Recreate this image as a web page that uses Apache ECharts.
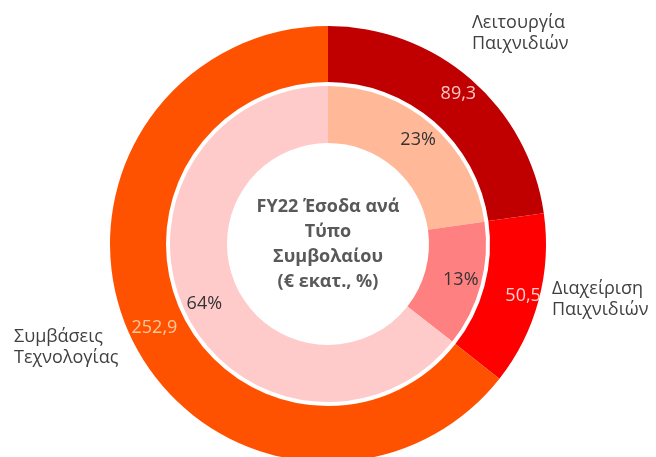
<!DOCTYPE html>
<html>
<head>
<meta charset="utf-8">
<script src="https://cdn.jsdelivr.net/npm/echarts@6/dist/echarts.min.js"></script>
<style>
  html, body { margin: 0; padding: 0; background: #ffffff; }
  #main { width: 656px; height: 457px; }
</style>
</head>
<body>
<div id="main"></div>
<script>
// data
const categories = ['Λειτουργία\nΠαιχνιδιών', 'Διαχείριση\nΠαιχνιδιών', 'Συμβάσεις\nΤεχνολογίας']
const revenue = [89.3, 50.5, 252.9]       // € εκατ.
const shares = [23, 13, 64]               // %
const centerTitle = 'FY22 Έσοδα ανά\nΤύπο\nΣυμβολαίου\n(€ εκατ., %)'

const outerColors = ['#C00000', '#FF0000', '#FF5200']
const innerColors = ['#FFB898', '#FF8080', '#FFCACA']
const valueLabelColors = ['#FFC4C4', '#FFCFCF', '#FFC79C']
// where the category names sit (label box left / vertical middle)
const namePos = [[472, 33], [552, 299], [14, 347]]

const font = '"Open Sans", "Noto Sans", sans-serif'
const center = [328, 244]

const chart = echarts.init(document.getElementById('main'))

const option = {
  backgroundColor: '#ffffff',
  animation: false,
  graphic: [{
    type: 'text',
    x: center[0],
    y: center[1],
    style: {
      text: centerTitle,
      font: 'bold 18px ' + font,
      fill: '#595959',
      align: 'center',
      verticalAlign: 'middle',
      lineHeight: 25
    }
  }],
  series: [
    {
      // outer ring: € values
      type: 'pie',
      center: center,
      radius: [162, 218],
      startAngle: 90,
      clockwise: true,
      silent: true,
      label: {
        position: 'inside',
        fontFamily: font,
        fontSize: 18,
        formatter: p => p.value.toFixed(1).replace('.', ',')
      },
      labelLayout: p => {
        // nudge the first two values toward the outer edge like the original
        const push = [6, 9, 0][p.dataIndex]
        const a = [41, 105, 244][p.dataIndex] * Math.PI / 180
        return { dx: push * Math.sin(a), dy: -push * Math.cos(a) }
      },
      data: revenue.map((v, i) => ({
        value: v,
        name: categories[i],
        itemStyle: { color: outerColors[i] },
        label: { color: valueLabelColors[i] }
      }))
    },
    {
      // category names outside the ring
      type: 'pie',
      center: center,
      radius: [162, 218],
      startAngle: 90,
      silent: true,
      itemStyle: { color: 'rgba(0,0,0,0)' },
      labelLine: { show: false },
      label: {
        position: 'outside',
        fontFamily: font,
        fontSize: 18,
        lineHeight: 21,
        color: '#404040',
        overflow: 'none',
        formatter: p => p.name
      },
      labelLayout: p => ({
        x: namePos[p.dataIndex][0],
        y: namePos[p.dataIndex][1],
        align: 'left',
        verticalAlign: 'middle'
      }),
      data: revenue.map((v, i) => ({ value: v, name: categories[i] }))
    },
    {
      // inner ring: shares
      type: 'pie',
      center: center,
      radius: [101, 158],
      startAngle: 90,
      silent: true,
      label: {
        position: 'inside',
        fontFamily: font,
        fontSize: 18,
        color: '#333333',
        formatter: p => shares[p.dataIndex] + '%'
      },
      labelLayout: p => {
        const a = [41, 105, 244][p.dataIndex] * Math.PI / 180
        return { dx: 5 * Math.sin(a), dy: -5 * Math.cos(a) }
      },
      data: shares.map((v, i) => ({
        value: revenue[i],
        name: categories[i],
        itemStyle: { color: innerColors[i] }
      }))
    }
  ]
}

option && chart.setOption(option)
</script>
</body>
</html>
